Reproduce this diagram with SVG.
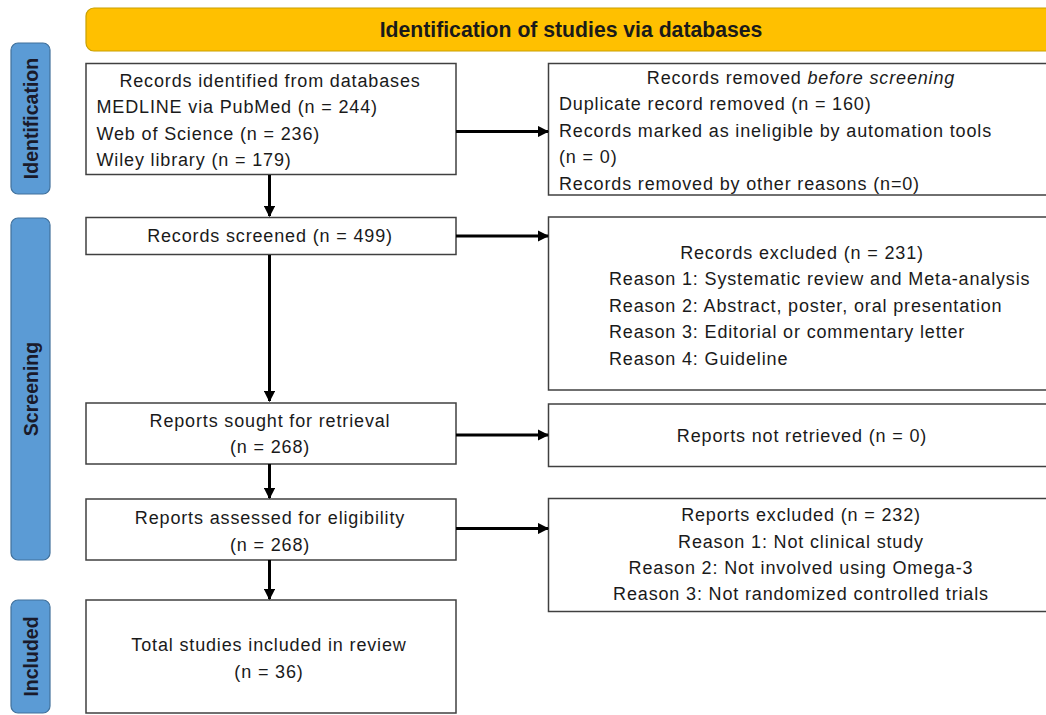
<svg xmlns="http://www.w3.org/2000/svg" width="1046" height="715" viewBox="0 0 1046 715">
  <style>
    .box { fill: #ffffff; stroke: #404040; stroke-width: 1.5; }
    .bar { fill: #5b9bd5; stroke: #41719c; stroke-width: 1.2; }
    .hdr { fill: #ffc000; stroke: #c9a000; stroke-width: 1.2; }
    .t { font-family: "Liberation Sans", Arial, sans-serif; font-size: 18px; fill: #1a1a1a; letter-spacing: 0.85px; }
    .c { text-anchor: middle; }
    .side { font-family: "Liberation Sans", Arial, sans-serif; font-size: 19.5px; font-weight: bold; fill: #1a1a2a; text-anchor: middle; }
    .title { font-family: "Liberation Sans", Arial, sans-serif; font-size: 21.2px; font-weight: bold; fill: #1a1a1a; text-anchor: middle; }
    .conn { stroke: #000000; stroke-width: 3; fill: none; }
  </style>
  <defs>
    <marker id="ah" viewBox="0 0 10 10" refX="9" refY="5" markerWidth="3.8" markerHeight="3.8" orient="auto" markerUnits="strokeWidth">
      <path d="M0,0 L10,5 L0,10 Z" fill="#000000"/>
    </marker>
  </defs>
  <rect width="1046" height="715" fill="#ffffff"/>

  <g id="header">
    <rect class="hdr" x="86" y="8" width="975" height="43" rx="8"/>
    <text class="title" x="571" y="36.5">Identification of studies via databases</text>
  </g>

  <g id="bar-identification">
    <rect class="bar" x="11" y="43" width="39" height="151" rx="7"/>
    <text class="side" transform="translate(37.5,118.5) rotate(-90)">Identification</text>
  </g>
  <g id="bar-screening">
    <rect class="bar" x="11" y="218" width="39" height="342" rx="7"/>
    <text class="side" transform="translate(37.5,389) rotate(-90)">Screening</text>
  </g>
  <g id="bar-included">
    <rect class="bar" x="11" y="600" width="39" height="113" rx="7"/>
    <text class="side" transform="translate(37.5,656.5) rotate(-90)">Included</text>
  </g>

  <g id="records-identified">
    <rect class="box" x="86" y="63.5" width="370" height="111"/>
    <text class="t c" x="270" y="87">Records identified from databases</text>
    <text class="t" x="96.5" y="113">MEDLINE via PubMed (n = 244)</text>
    <text class="t" x="96.5" y="139.5">Web of Science (n = 236)</text>
    <text class="t" x="96.5" y="166">Wiley library (n = 179)</text>
  </g>

  <g id="records-removed">
    <rect class="box" x="548.5" y="63.5" width="510" height="131.5"/>
    <text class="t c" x="801" y="83.5">Records removed <tspan font-style="italic">before screening</tspan></text>
    <text class="t" x="559" y="110">Duplicate record removed (n = 160)</text>
    <text class="t" x="559" y="136.5">Records marked as ineligible by automation tools</text>
    <text class="t" x="559" y="163">(n = 0)</text>
    <text class="t" x="559" y="189.5">Records removed by other reasons (n=0)</text>
  </g>

  <g id="records-screened">
    <rect class="box" x="86" y="217.5" width="370" height="37"/>
    <text class="t c" x="270" y="242">Records screened (n = 499)</text>
  </g>

  <g id="records-excluded">
    <rect class="box" x="548.5" y="217" width="510" height="173"/>
    <text class="t c" x="802" y="258.5">Records excluded (n = 231)</text>
    <text class="t" x="609" y="285">Reason 1: Systematic review and Meta-analysis</text>
    <text class="t" x="609" y="311.5">Reason 2: Abstract, poster, oral presentation</text>
    <text class="t" x="609" y="338">Reason 3: Editorial or commentary letter</text>
    <text class="t" x="609" y="364.5">Reason 4: Guideline</text>
  </g>

  <g id="reports-sought">
    <rect class="box" x="86" y="403" width="370" height="61"/>
    <text class="t c" x="270" y="426.5">Reports sought for retrieval</text>
    <text class="t c" x="270" y="453">(n = 268)</text>
  </g>

  <g id="reports-not-retrieved">
    <rect class="box" x="548.5" y="404" width="510" height="62.5"/>
    <text class="t c" x="802" y="441.5">Reports not retrieved (n = 0)</text>
  </g>

  <g id="reports-assessed">
    <rect class="box" x="86" y="499" width="370" height="61"/>
    <text class="t c" x="270" y="523.5">Reports assessed for eligibility</text>
    <text class="t c" x="270" y="551">(n = 268)</text>
  </g>

  <g id="reports-excluded">
    <rect class="box" x="548.5" y="498.5" width="510" height="113"/>
    <text class="t c" x="801" y="520.5">Reports excluded (n = 232)</text>
    <text class="t c" x="801" y="547.5">Reason 1: Not clinical study</text>
    <text class="t c" x="801" y="573.5">Reason 2: Not involved using Omega-3</text>
    <text class="t c" x="801" y="600">Reason 3: Not randomized controlled trials</text>
  </g>

  <g id="total-included">
    <rect class="box" x="86" y="600" width="370" height="113"/>
    <text class="t c" x="269" y="651">Total studies included in review</text>
    <text class="t c" x="269" y="678">(n = 36)</text>
  </g>

  <g id="connectors">
    <line class="conn" x1="456" y1="131.5" x2="548" y2="131.5" marker-end="url(#ah)"/>
    <line class="conn" x1="456" y1="236" x2="548" y2="236" marker-end="url(#ah)"/>
    <line class="conn" x1="456" y1="435" x2="548" y2="435" marker-end="url(#ah)"/>
    <line class="conn" x1="456" y1="528.5" x2="548" y2="528.5" marker-end="url(#ah)"/>
    <line class="conn" x1="269.5" y1="175" x2="269.5" y2="216" marker-end="url(#ah)"/>
    <line class="conn" x1="269.5" y1="255" x2="269.5" y2="401" marker-end="url(#ah)"/>
    <line class="conn" x1="269.5" y1="464" x2="269.5" y2="498" marker-end="url(#ah)"/>
    <line class="conn" x1="269.5" y1="560" x2="269.5" y2="599" marker-end="url(#ah)"/>
  </g>
</svg>
